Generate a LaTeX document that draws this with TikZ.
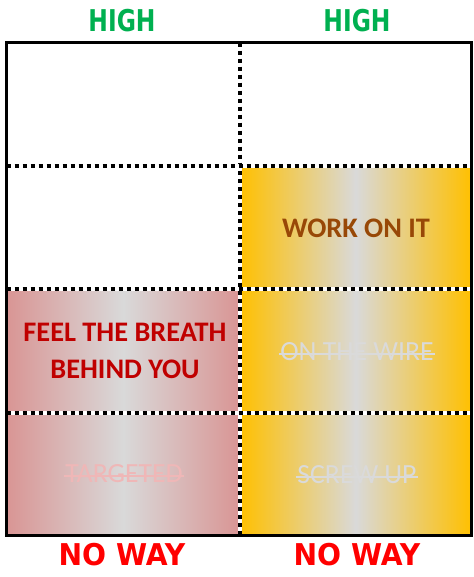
\documentclass[tikz,border=0pt]{standalone}
\usepackage{fontspec}
\setmainfont{Carlito}
\newfontfamily\digifont{DejaVu Sans}
\definecolor{pinkedge}{HTML}{D99594}
\definecolor{midgray}{HTML}{D9D9D9}
\definecolor{goldedge}{HTML}{FFC000}
\definecolor{highgreen}{HTML}{00B050}
\definecolor{nowayred}{HTML}{FF0000}
\definecolor{darkred}{HTML}{C00000}
\definecolor{brownish}{HTML}{984807}
\definecolor{pinktext}{HTML}{EFB7B7}
\definecolor{graytext}{HTML}{DADADA}
\begin{document}
\begin{tikzpicture}[x=1pt,y=-1pt,
  toplabel/.style={font=\digifont\bfseries\fontsize{30}{30}\selectfont, text=highgreen, inner sep=0pt},
  botlabel/.style={font=\digifont\bfseries\fontsize{30}{30}\selectfont, text=nowayred, inner sep=0pt},
  celltext/.style={font=\bfseries\fontsize{28.3}{37}\selectfont, align=center, inner sep=0pt},
  strucktext/.style={font=\fontsize{27.7}{30}\selectfont, inner xsep=1pt, inner ysep=0pt},
  strike/.style={line width=1.6pt},
  divider/.style={line width=3.5pt, dash pattern=on 4pt off 4pt},
  dividerbg/.style={line width=3.5pt, white},
  frame/.style={line width=3pt, black}]
\useasboundingbox (0,0) rectangle (473,577);
% fills
\shade[left color=pinkedge, right color=pinkedge, middle color=midgray] (6.5,289) rectangle (240,535);
\shade[left color=goldedge, right color=goldedge, middle color=midgray] (240,166) rectangle (471.5,535);
% dividers
\coordinate (vt) at (240,42.7);
\coordinate (vb) at (240,535);
\coordinate (h1l) at (6.5,166);
\coordinate (h1r) at (471.5,166);
\coordinate (h2l) at (6.5,289);
\coordinate (h2r) at (471.5,289);
\coordinate (h3l) at (6.5,413);
\coordinate (h3r) at (471.5,413);
\foreach \a/\b in {vt/vb,h1l/h1r,h2l/h2r,h3l/h3r}{
  \draw[dividerbg] (\a) -- (\b);
  \draw[divider] (\a) -- (\b);
}
% frame
\draw[frame] (6.5,42.7) rectangle (471.5,535);
% labels
\node[toplabel] (high1) at (122,21) {\scalebox{0.78}[1]{HIGH}};
\node[toplabel] (high2) at (357,21) {\scalebox{0.78}[1]{HIGH}};
\node[botlabel] (noway1) at (122,555) {\scalebox{0.94}[1]{NO WAY}};
\node[botlabel] (noway2) at (357,555) {\scalebox{0.94}[1]{NO WAY}};
% cell texts
\node[celltext, text=brownish] (work) at (356,228) {WORK ON IT};
\node[celltext, text=darkred] (feel) at (125,351) {FEEL THE BREATH\\BEHIND YOU};
\node[strucktext, text=graytext] (wire) at (357,352) {ON THE WIRE};
\node[strucktext, text=pinktext] (targeted) at (124,474) {TARGETED};
\node[strucktext, text=graytext] (screw) at (357,475) {SCREW UP};
\draw[strike, graytext] ([yshift=7pt]wire.base west) -- ([yshift=7pt]wire.base east);
\draw[strike, pinktext] ([yshift=7pt]targeted.base west) -- ([yshift=7pt]targeted.base east);
\draw[strike, graytext] ([yshift=7pt]screw.base west) -- ([yshift=7pt]screw.base east);
\end{tikzpicture}
\end{document}
